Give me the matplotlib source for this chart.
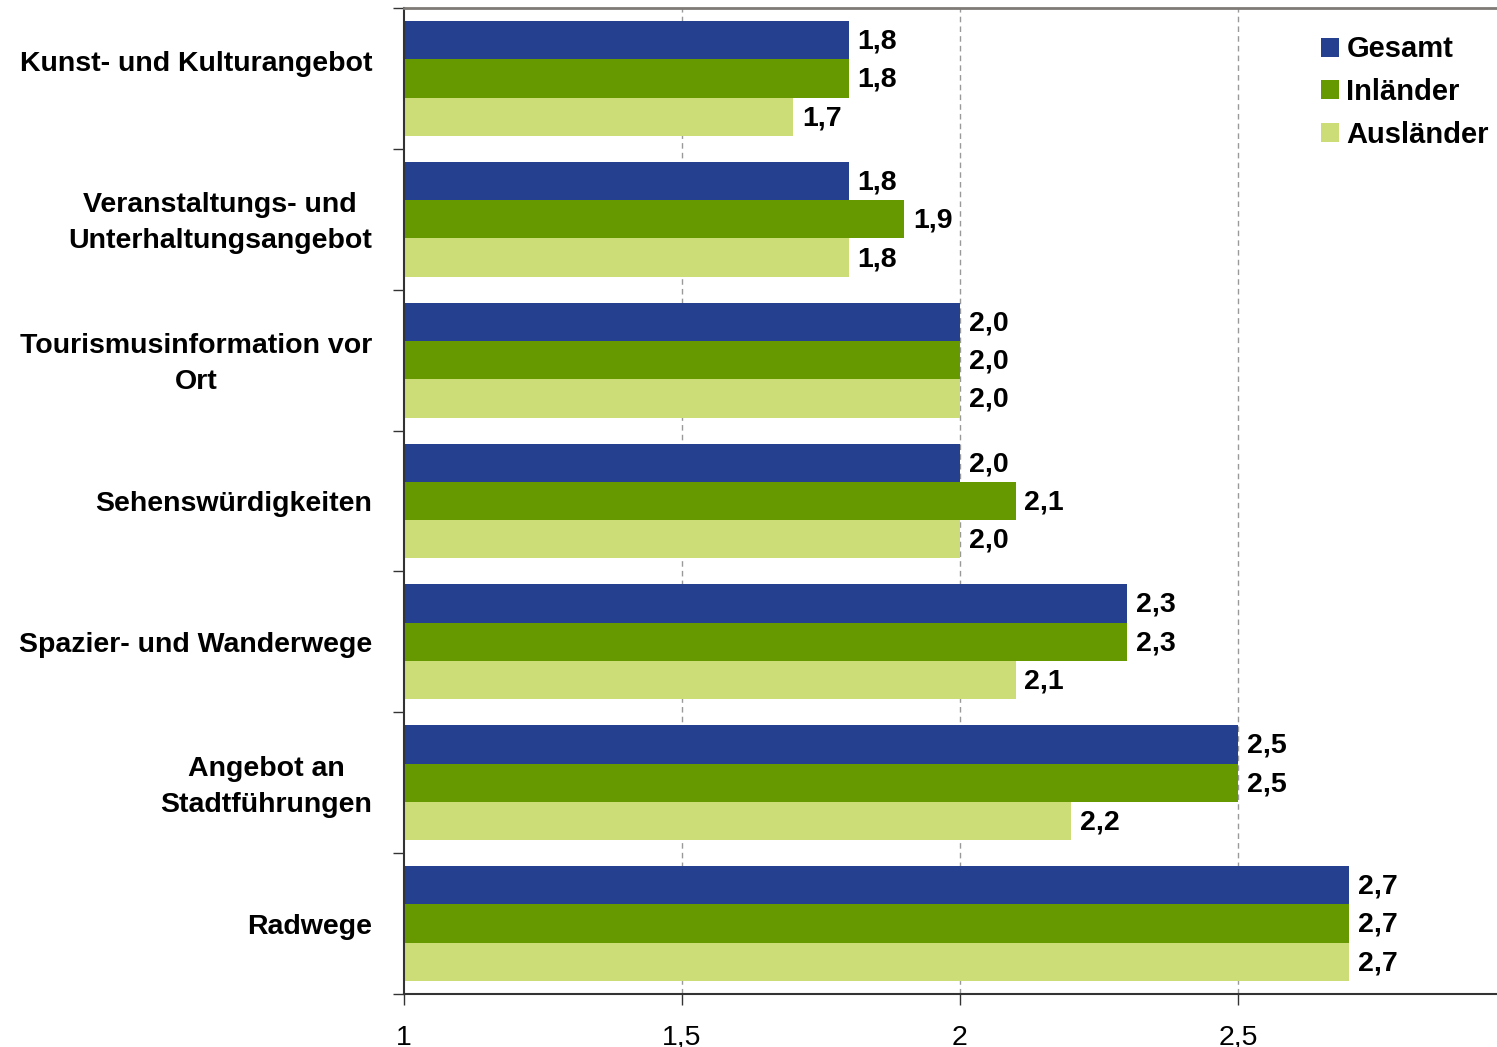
import numpy as np
import matplotlib.pyplot as plt
from matplotlib.ticker import FixedLocator
from matplotlib.transforms import ScaledTranslation

plt.rcParams['font.family'] = ['Liberation Sans', 'DejaVu Sans']

categories = ['Kunst- und Kulturangebot',
              'Veranstaltungs- und\nUnterhaltungsangebot',
              'Tourismusinformation vor\nOrt',
              'Sehenswürdigkeiten',
              'Spazier- und Wanderwege',
              'Angebot an\nStadtführungen',
              'Radwege']
gesamt = [1.8, 1.8, 2.0, 2.0, 2.3, 2.5, 2.7]
inlaender = [1.8, 1.9, 2.0, 2.1, 2.3, 2.5, 2.7]
auslaender = [1.7, 1.8, 2.0, 2.0, 2.1, 2.2, 2.7]
series_names = ['Gesamt', 'Inländer', 'Ausländer']
colors = ['#24408e', '#669900', '#ccdd77']
xticks = [1, 1.5, 2, 2.5]

fig = plt.figure(figsize=(14.97, 10.47), dpi=100)
ax = fig.add_axes([404 / 1497, 1 - 994 / 1047, (1497 - 404) / 1497, 986 / 1047])

n = len(categories)
y = np.arange(n)
bh = 0.272
for i, (vals, name, c) in enumerate(zip([gesamt, inlaender, auslaender], series_names, colors)):
    pos = y + (i - 1) * bh
    ax.barh(pos, np.array(vals) - 1, left=1, height=bh, color=c, label=name, zorder=2)
    for p, v in zip(pos, vals):
        ax.text(v + 0.016, p + 0.01, f'{v:.1f}'.replace('.', ','), va='center', ha='left',
                fontsize=20.5, fontweight='bold', zorder=3)

ax.set_ylim(n - 0.5, -0.5)
ax.set_xlim(1, 1 + (1497 - 404) / 556)
ax.set_xticks(xticks)
ax.set_xticklabels([str(t).replace('.', ',') for t in xticks], fontsize=20.5)
ax.tick_params(axis='x', length=8, width=1, color='#333333', pad=14)
ax.set_yticks(y)
ax.set_yticklabels(categories, fontsize=20.5, fontweight='bold', multialignment='center',
                   linespacing=1.5)
ax.tick_params(axis='y', which='major', length=0, pad=23)
ax.yaxis.set_minor_locator(FixedLocator(np.arange(-0.5, n, 1.0)))
ax.tick_params(axis='y', which='minor', length=8, width=1, color='#333333')

# first label sits higher in the original, two-line labels slightly higher
for k, lab in enumerate(ax.get_yticklabels()):
    dy = 0.17 if k == 0 else (0.04 if '\n' in categories[k] else 0)
    lab.set_transform(lab.get_transform() + ScaledTranslation(0, dy, fig.dpi_scale_trans))

for xv in xticks[1:]:
    ax.axvline(xv, color='#999999', linestyle=(0, (4, 3)), linewidth=1, zorder=1)

ax.spines['right'].set_visible(False)
ax.spines['top'].set_color('#7f7a75')
ax.spines['top'].set_linewidth(2)
ax.spines['left'].set_color('#333333')
ax.spines['left'].set_linewidth(1.5)
ax.spines['bottom'].set_color('#333333')
ax.spines['bottom'].set_linewidth(1.5)

leg = ax.legend(loc='upper right', bbox_to_anchor=(1.006, 0.987), frameon=False,
                prop={'size': 21, 'weight': 'bold'}, handlelength=0.62, handleheight=0.62,
                handletextpad=0.27, labelspacing=0.5, borderaxespad=0.1)

fig.savefig('out.png', dpi=100)
